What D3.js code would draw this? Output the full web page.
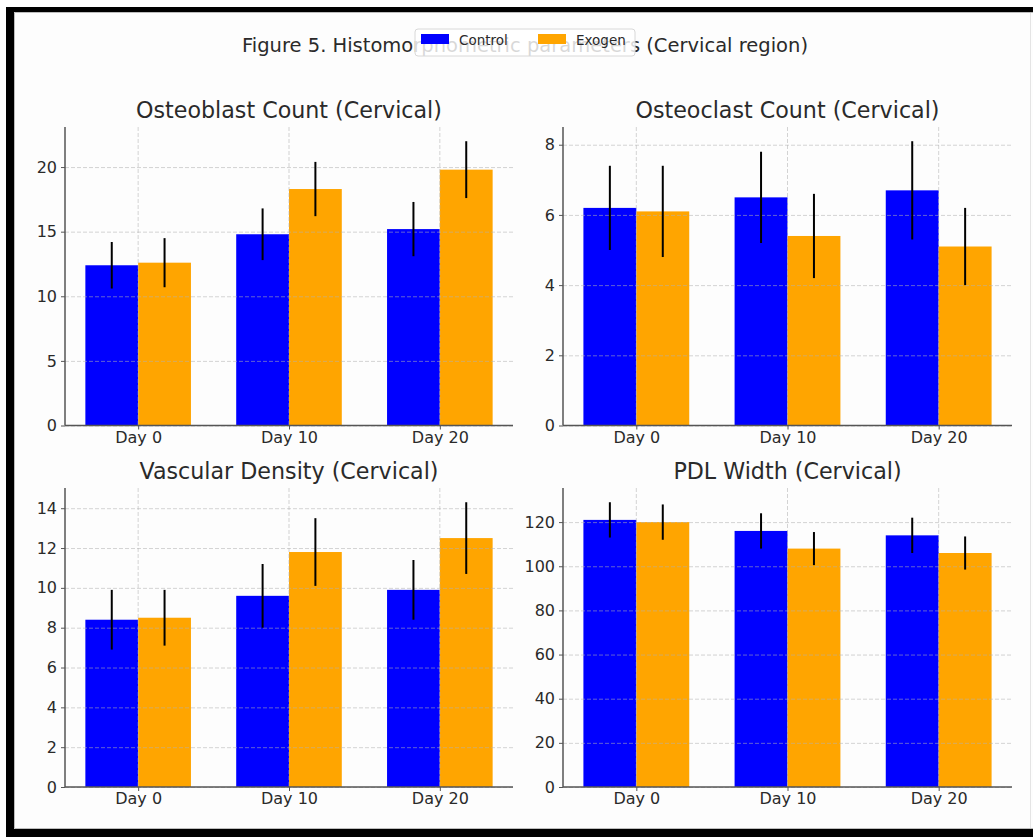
<!DOCTYPE html>
<html>
<head>
<meta charset="utf-8">
<script src="https://cdn.jsdelivr.net/npm/d3@7/dist/d3.min.js"></script>
<style>
  html, body { margin: 0; padding: 0; background: #ffffff; overflow: hidden; }
  svg { display: block; font-family: "DejaVu Sans", sans-serif; }
</style>
</head>
<body>
<svg id="chart" width="1033" height="837"></svg>
<script>
// ---- Data ----
const categories = ["Day 0", "Day 10", "Day 20"];
const seriesNames = ["Control", "Exogen"];
const seriesColors = ["#0000ff", "#ffa500"];
const figureTitle = "Figure 5. Histomorphometric parameters (Cervical region)";

const panelTitles = ["Osteoblast Count (Cervical)", "Osteoclast Count (Cervical)",
                     "Vascular Density (Cervical)", "PDL Width (Cervical)"];

const osteoblastControl = [12.4, 14.8, 15.2];
const osteoblastControlErr = [1.8, 2.0, 2.1];
const osteoblastExogen = [12.6, 18.3, 19.8];
const osteoblastExogenErr = [1.9, 2.1, 2.2];

const osteoclastControl = [6.2, 6.5, 6.7];
const osteoclastControlErr = [1.2, 1.3, 1.4];
const osteoclastExogen = [6.1, 5.4, 5.1];
const osteoclastExogenErr = [1.3, 1.2, 1.1];

const vascularControl = [8.4, 9.6, 9.9];
const vascularControlErr = [1.5, 1.6, 1.5];
const vascularExogen = [8.5, 11.8, 12.5];
const vascularExogenErr = [1.4, 1.7, 1.8];

const pdlControl = [121, 116, 114];
const pdlControlErr = [8, 8, 8];
const pdlExogen = [120, 108, 106];
const pdlExogenErr = [8, 7.5, 7.5];

const yTicks = [
  [0, 5, 10, 15, 20],
  [0, 2, 4, 6, 8],
  [0, 2, 4, 6, 8, 10, 12, 14],
  [0, 20, 40, 60, 80, 100, 120]
];

const panelData = [
  [[osteoblastControl, osteoblastControlErr], [osteoblastExogen, osteoblastExogenErr]],
  [[osteoclastControl, osteoclastControlErr], [osteoclastExogen, osteoclastExogenErr]],
  [[vascularControl, vascularControlErr], [vascularExogen, vascularExogenErr]],
  [[pdlControl, pdlControlErr], [pdlExogen, pdlExogenErr]]
];

// ---- Layout ----
const svg = d3.select("#chart");

// page background
svg.append("rect").attr("x", 0).attr("y", 0).attr("width", 1033).attr("height", 837).attr("fill", "#ffffff");
// black frame strips: left, top, bottom
svg.append("rect").attr("x", 6).attr("y", 7).attr("width", 8).attr("height", 830).attr("fill", "#000");
svg.append("rect").attr("x", 6).attr("y", 7).attr("width", 1027).attr("height", 5).attr("fill", "#000");
svg.append("rect").attr("x", 6).attr("y", 829).attr("width", 1027).attr("height", 8).attr("fill", "#000");
// inner panel
svg.append("rect").attr("x", 14).attr("y", 12).attr("width", 1019).attr("height", 817).attr("fill", "#fdfdfd");
svg.append("path").attr("d", "M1033,12.5 H14.5 V828.5 H1033")
  .attr("fill", "none").attr("stroke", "#bdbdbd").attr("stroke-width", 1);
svg.append("line").attr("x1", 1030.5).attr("x2", 1030.5).attr("y1", 13).attr("y2", 828)
  .attr("stroke", "#e4e4e4").attr("stroke-width", 1);

const boxes = [
  {x0: 65, x1: 513, top: 127, bottom: 425.5},
  {x0: 563, x1: 1012, top: 127, bottom: 425.5},
  {x0: 65, x1: 513, top: 488, bottom: 787},
  {x0: 563, x1: 1012, top: 488, bottom: 787}
];

const barW = 0.35;

panelData.forEach((pd, pi) => {
  const b = boxes[pi];
  const g = svg.append("g");
  let maxV = 0;
  pd.forEach(([v, e]) => v.forEach((d, i) => { maxV = Math.max(maxV, d + e[i]); }));
  const y = d3.scaleLinear().domain([0, maxV * 1.05]).range([b.bottom, b.top]);
  const x = d3.scaleLinear().domain([-barW - 0.135, 2 + barW + 0.135]).range([b.x0, b.x1]);

  // bars
  pd.forEach(([vals, errs], si) => {
    const off = si === 0 ? -barW / 2 : barW / 2;
    g.selectAll(null).data(vals).enter().append("rect")
      .attr("x", (d, i) => x(i + off - barW / 2))
      .attr("width", x(barW) - x(0))
      .attr("y", d => y(d))
      .attr("height", d => y(0) - y(d))
      .attr("fill", seriesColors[si]);
  });

  // grid (above bars, semi-transparent)
  const grid = g.append("g").attr("stroke", "#b0b0b0").attr("stroke-opacity", 0.55)
    .attr("stroke-width", 1).attr("stroke-dasharray", "4,2");
  grid.selectAll(null).data(yTicks[pi]).enter().append("line")
    .attr("x1", b.x0).attr("x2", b.x1)
    .attr("y1", d => y(d) + 0.5).attr("y2", d => y(d) + 0.5);
  grid.selectAll(null).data(categories).enter().append("line")
    .attr("x1", (d, i) => x(i)).attr("x2", (d, i) => x(i))
    .attr("y1", b.top).attr("y2", b.bottom);

  // error bars
  pd.forEach(([vals, errs], si) => {
    const off = si === 0 ? -barW / 2 : barW / 2;
    g.selectAll(null).data(vals).enter().append("line")
      .attr("x1", (d, i) => x(i + off)).attr("x2", (d, i) => x(i + off))
      .attr("y1", (d, i) => y(d - errs[i])).attr("y2", (d, i) => y(d + errs[i]))
      .attr("stroke", "#000").attr("stroke-width", 2);
  });

  // axes
  const yAxis = d3.axisLeft(y).tickValues(yTicks[pi]).tickSize(4).tickPadding(4).tickFormat(d3.format("d"));
  const ya = g.append("g").attr("transform", `translate(${b.x0},0)`).call(yAxis);
  ya.select(".domain").remove();
  ya.selectAll("line").attr("stroke", "#555");
  ya.selectAll("text").attr("font-size", 16).attr("fill", "#2a2a2a").attr("font-family", "DejaVu Sans");

  const xAxis = d3.axisBottom(d3.scalePoint().domain(categories).range([x(0), x(2)]))
    .tickSize(4).tickPadding(2);
  const xa = g.append("g").attr("transform", `translate(0,${b.bottom})`).call(xAxis);
  xa.select(".domain").remove();
  xa.selectAll("line").attr("stroke", "#555");
  xa.selectAll("text").attr("font-size", 16).attr("fill", "#2a2a2a").attr("font-family", "DejaVu Sans");

  // spines
  g.append("line").attr("x1", b.x0).attr("x2", b.x0).attr("y1", b.top).attr("y2", b.bottom)
    .attr("stroke", "#555").attr("stroke-width", 1.5);
  g.append("line").attr("x1", b.x0).attr("x2", b.x1).attr("y1", b.bottom).attr("y2", b.bottom)
    .attr("stroke", "#555").attr("stroke-width", 1.5);

  // title
  g.append("text").attr("x", (b.x0 + b.x1) / 2).attr("y", b.top - 9)
    .attr("text-anchor", "middle").attr("font-size", 22.2).attr("fill", "#2a2a2a")
    .text(panelTitles[pi]);
});

// figure title
svg.append("text").attr("x", 525).attr("y", 52).attr("text-anchor", "middle")
  .attr("font-size", 19.5).attr("fill", "#2a2a2a").text(figureTitle);

// legend
const lg = svg.append("g");
lg.append("rect").attr("x", 415).attr("y", 29).attr("width", 220).attr("height", 27).attr("rx", 3)
  .attr("fill", "#ffffff").attr("fill-opacity", 0.82).attr("stroke", "#d8d8d8");
const legX = [421, 538];
seriesNames.forEach((n, i) => {
  lg.append("rect").attr("x", legX[i]).attr("y", 34).attr("width", 28).attr("height", 10).attr("fill", seriesColors[i]);
  lg.append("text").attr("x", legX[i] + 38).attr("y", 45).attr("font-size", 13.5).attr("fill", "#2a2a2a").text(n);
});
</script>
</body>
</html>
